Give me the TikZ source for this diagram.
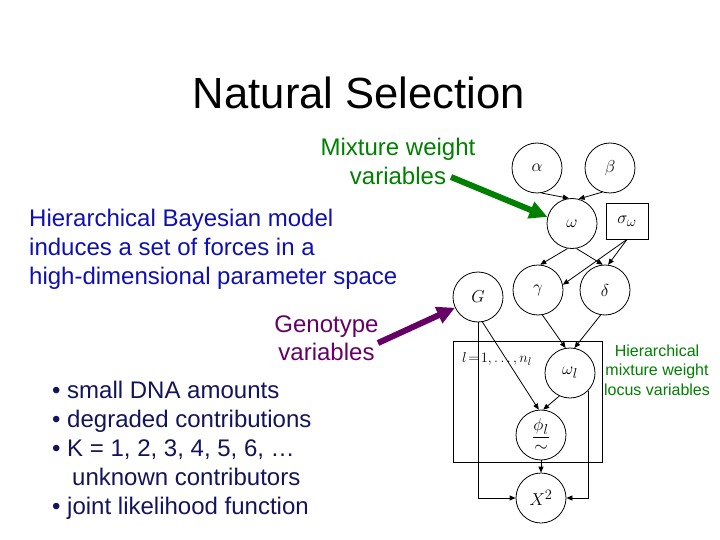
\documentclass[tikz,border=0pt]{standalone}
\usepackage{amsmath}
\usepackage{fontspec}
\setmainfont{Liberation Sans}
\usetikzlibrary{arrows.meta}
\definecolor{mixgreen}{RGB}{0,128,0}
\definecolor{genpurple}{RGB}{102,0,102}
\definecolor{headblue}{RGB}{16,16,176}
\definecolor{bulletnavy}{RGB}{20,20,90}
\tikzset{
  var/.style={circle,draw,line width=0.8pt,minimum size=50pt,inner sep=0pt,font=\fontsize{19}{21}\selectfont},
  fixbox/.style={rectangle,draw,line width=0.8pt,minimum width=42pt,minimum height=36pt,inner sep=0pt,font=\fontsize{19}{21}\selectfont},
  edge/.style={line width=0.8pt,-{Triangle[length=6pt,width=5pt]}},
  plate/.style={draw,line width=0.8pt},
  txt/.style={inner sep=0pt,anchor=base west},
  ctxt/.style={inner sep=0pt,anchor=base},
  title/.style={ctxt,font=\fontsize{43.6}{52}\selectfont},
  body/.style={txt,font=\fontsize{24}{29}\selectfont},
  cbody/.style={ctxt,font=\fontsize{24}{29}\selectfont},
  small/.style={ctxt,font=\fontsize{16}{19.5}\selectfont,text=mixgreen},
  bigarrow/.style={line width=6pt,-{Triangle[length=18pt,width=17pt]}},
}
\begin{document}
\begin{tikzpicture}[x=1pt,y=-1pt]
\useasboundingbox[fill=white] (0,0) rectangle (720,540);

% title
\node[title] (ttl) at (359,109) {Natural Selection};

% left texts
\node[cbody,text=mixgreen] (mw1) at (398,156) {Mixture weight};
\node[cbody,text=mixgreen] (mw2) at (398,185) {variables};

\node[body,text=headblue] (h1) at (29,226) {Hierarchical Bayesian model};
\node[body,text=headblue] (h2) at (29,255) {induces a set of forces in a};
\node[body,text=headblue] (h3) at (29,284) {high-dimensional parameter space};

\node[cbody,text=genpurple] (gv1) at (326.5,332) {Genotype};
\node[cbody,text=genpurple] (gv2) at (326.5,360) {variables};

\node[body,text=bulletnavy] (b1) at (52,398) {• small DNA amounts};
\node[body,text=bulletnavy] (b2) at (52,427) {• degraded contributions};
\node[body,text=bulletnavy] (b3) at (52,456) {• K = 1, 2, 3, 4, 5, 6, …};
\node[body,text=bulletnavy] (b4) at (72,485) {unknown contributors};
\node[body,text=bulletnavy] (b5) at (52,514) {• joint likelihood function};

\node[small] (s1) at (657,356) {Hierarchical};
\node[small] (s2) at (657,375.5) {mixture weight};
\node[small] (s3) at (657,395) {locus variables};

% graph
\node[var] (a) at (537,168) {$\alpha$};
\node[var] (b) at (610,168) {$\beta$};
\node[var] (w) at (572,223.5) {$\omega$};
\node[fixbox] (s) at (627,221) {$\sigma_\omega$};
\node[var] (g) at (538,290) {$\gamma$};
\node[var] (d) at (605,290) {$\delta$};
\node[var] (G) at (478,297) {$G$};
\node[var] (wl) at (570,373) {$\omega_l$};
\node[var] (ph) at (541,435) {\shortstack{$\underline{\phi_l}$\\[4pt]$\sim$}};
\node[var] (X) at (541,498) {$X^2$};

% plate
\draw[plate] (453,341) rectangle (602,462);
\node[inner sep=0pt,anchor=west,font=\fontsize{15}{17}\selectfont] (pl) at (462,359) {$l\!=\!1,\ldots,n_l$};

% edges
\draw[edge] (a.-80) -- (w.97);
\draw[edge] (b.-108) -- (w.75);
\draw[edge] (w.-100) -- (g.85);
\draw[edge] (w.-80) -- (d.95);
\draw[edge] (s.south) -- (d.83);
\draw[edge] (s.south) -- (g.12);
\draw[edge] (g.-80) -- (wl.100);
\draw[edge] (d.-100) -- (wl.80);
\draw[edge] (G.-80) -- (ph.95);
\draw[edge] (wl.-115) -- (ph.85);
\draw[edge] (ph.south) -- (X.north);
\draw[edge] (G.south) |- (X.west);
\draw[edge] (wl.south east) |- (X.east);

% big annotation arrows
\coordinate (gs) at (451,177);
\draw[bigarrow,draw=mixgreen,fill=mixgreen] (gs) -- (w.165);
\coordinate (ps) at (378,343);
\draw[bigarrow,draw=genpurple,fill=genpurple] (ps) -- (G.205);
\end{tikzpicture}
\end{document}
